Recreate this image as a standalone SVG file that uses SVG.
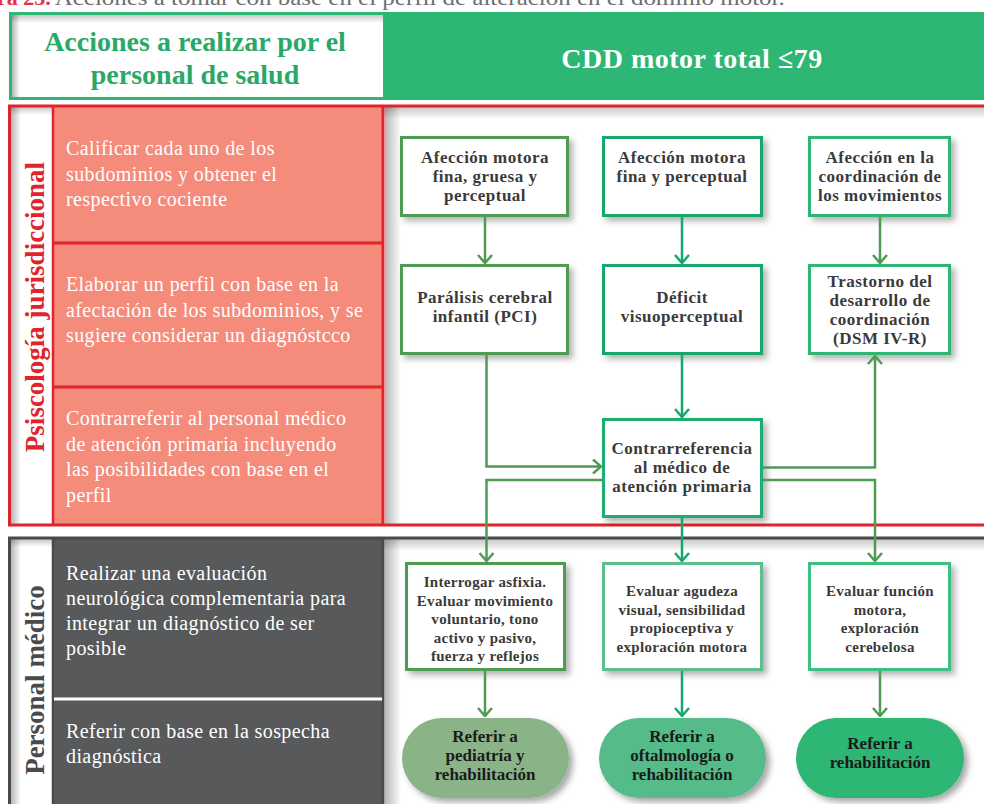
<svg xmlns="http://www.w3.org/2000/svg" width="984" height="804" viewBox="0 0 984 804">
  <defs>
    <style>
      .serif { font-family: "Liberation Serif", "Times New Roman", serif; }
      .hdr { font-family: "Liberation Serif", serif; font-weight: bold; font-size: 28px; text-anchor: middle; }
      .lane { font-family: "Liberation Serif", serif; font-size: 20px; letter-spacing: 0.4px; fill: #ffffff; }
      .vlab { font-family: "Liberation Serif", serif; font-weight: bold; font-size: 27px; text-anchor: middle; }
      .bt { font-family: "Liberation Serif", serif; font-weight: bold; font-size: 17px; letter-spacing: 0.5px; fill: #3a3a3a; text-anchor: middle; }
      .st { font-family: "Liberation Serif", serif; font-weight: bold; font-size: 15px; letter-spacing: 0.3px; fill: #3a3a3a; text-anchor: middle; }
      .pt { font-family: "Liberation Serif", serif; font-weight: bold; font-size: 17px; fill: #1a1a1a; text-anchor: middle; }
      .box { fill: #ffffff; stroke-width: 3; filter: url(#shadow); }
      .pill { stroke: none; filter: url(#pillShadow); }
      .conn { fill: none; stroke-width: 2.5; }
      .gA { stroke: #4f9b53; }
      .gB { stroke: #14a86b; }
      .gC { stroke: #2db674; }
    </style>
    <filter id="shadow" x="-20%" y="-20%" width="150%" height="150%">
      <feDropShadow dx="4" dy="4" stdDeviation="3" flood-color="#000" flood-opacity="0.3"/>
    </filter>
    <filter id="pillShadow" x="-20%" y="-20%" width="150%" height="150%">
      <feDropShadow dx="4" dy="4" stdDeviation="3" flood-color="#000" flood-opacity="0.35"/>
    </filter>
    <linearGradient id="insetL" x1="0" y1="0" x2="1" y2="0">
      <stop offset="0" stop-color="#000" stop-opacity="0.28"/>
      <stop offset="1" stop-color="#000" stop-opacity="0"/>
    </linearGradient>
    <linearGradient id="insetT" x1="0" y1="0" x2="0" y2="1">
      <stop offset="0" stop-color="#000" stop-opacity="0.22"/>
      <stop offset="1" stop-color="#000" stop-opacity="0"/>
    </linearGradient>
    <marker id="arrA" viewBox="0 0 10 16" refX="9" refY="8" markerWidth="10" markerHeight="16" markerUnits="userSpaceOnUse" orient="auto">
      <path d="M1,1 L9,8 L1,15" fill="none" stroke="#4f9b53" stroke-width="2.5"/>
    </marker>
    <marker id="arrB" viewBox="0 0 10 16" refX="9" refY="8" markerWidth="10" markerHeight="16" markerUnits="userSpaceOnUse" orient="auto">
      <path d="M1,1 L9,8 L1,15" fill="none" stroke="#14a86b" stroke-width="2.5"/>
    </marker>
  </defs>

  <rect width="984" height="804" fill="#ffffff"/>

  <!-- caption, cut at the top edge -->
  <text class="serif" y="5" font-size="22">
    <tspan x="-3" fill="#e5304c" font-weight="bold">ra 23.</tspan><tspan fill="#6d6e70" dx="4" textLength="730" lengthAdjust="spacingAndGlyphs">Acciones a tomar con base en el perfil de alteración en el dominio motor.</tspan>
  </text>

  <!-- header band -->
  <g id="header">
    <rect x="9" y="12" width="980" height="88" fill="#2db674"/>
    <rect x="12" y="15" width="371" height="82" fill="#ffffff"/>
    <rect x="12" y="15" width="371" height="8" fill="url(#insetT)"/>
    <rect x="12" y="15" width="8" height="82" fill="url(#insetL)"/>
    <text class="hdr" x="195" y="51" fill="#2aa867">Acciones a realizar por el</text>
    <text class="hdr" x="195" y="84" fill="#2aa867">personal de salud</text>
    <text class="hdr" x="692" y="68" fill="#ffffff" font-size="30" letter-spacing="0.5">CDD motor total ≤79</text>
  </g>

  <!-- lane: psicología -->
  <g id="lane-psicologia">
    <rect x="10" y="106" width="990" height="419" fill="#ffffff"/>
    <rect x="385" y="107" width="16" height="417" fill="url(#insetL)"/>
    <rect x="383" y="107" width="610" height="12" fill="url(#insetT)"/>
    <rect x="11" y="107" width="10" height="417" fill="url(#insetL)"/>
    <rect x="11" y="107" width="42" height="8" fill="url(#insetT)"/>
    <rect x="53" y="106" width="330" height="419" fill="#f48b7b"/>
    <g fill="none" stroke="#e1232c">
      <rect x="9.5" y="106" width="990" height="419" stroke-width="3"/>
      <line x1="53" y1="106" x2="53" y2="525" stroke-width="2.5"/>
      <line x1="383" y1="106" x2="383" y2="525" stroke-width="3"/>
      <line x1="53" y1="243" x2="383" y2="243" stroke-width="3"/>
      <line x1="53" y1="387" x2="383" y2="387" stroke-width="3"/>
    </g>
    <text class="vlab" transform="translate(44 307) rotate(-90)" fill="#e1232c">Psiscología jurisdiccional</text>
    <text class="lane" x="66" y="155">Calificar cada uno de los</text>
    <text class="lane" x="66" y="180.5">subdominios y obtener el</text>
    <text class="lane" x="66" y="206">respectivo cociente</text>
    <text class="lane" x="66" y="291">Elaborar un perfil con base en la</text>
    <text class="lane" x="66" y="316.5">afectación de los subdominios, y se</text>
    <text class="lane" x="66" y="342">sugiere considerar un diagnóstcco</text>
    <text class="lane" x="66" y="425">Contrarreferir al personal médico</text>
    <text class="lane" x="66" y="450.5">de atención primaria incluyendo</text>
    <text class="lane" x="66" y="476">las posibilidades con base en el</text>
    <text class="lane" x="66" y="501.5">perfil</text>
  </g>

  <!-- lane: personal médico -->
  <g id="lane-medico">
    <rect x="10" y="538" width="990" height="280" fill="#ffffff"/>
    <rect x="385" y="539" width="16" height="270" fill="url(#insetL)"/>
    <rect x="383" y="539" width="610" height="12" fill="url(#insetT)"/>
    <rect x="11" y="539" width="10" height="270" fill="url(#insetL)"/>
    <rect x="11" y="539" width="42" height="8" fill="url(#insetT)"/>
    <rect x="53" y="538" width="330" height="280" fill="#58595b"/>
    <g fill="none" stroke="#4a4a4c">
      <rect x="9.5" y="538" width="990" height="280" stroke-width="3"/>
      <line x1="53" y1="538" x2="53" y2="810" stroke-width="2.5"/>
      <line x1="383" y1="538" x2="383" y2="810" stroke-width="3"/>
    </g>
    <line x1="54" y1="699" x2="382" y2="699" stroke="#ffffff" stroke-width="3"/>
    <text class="vlab" transform="translate(44 680) rotate(-90)" fill="#4a4a4c" font-size="28">Personal médico</text>
    <text class="lane" x="66" y="580">Realizar una evaluación</text>
    <text class="lane" x="66" y="605">neurológica complementaria para</text>
    <text class="lane" x="66" y="630">integrar un diagnóstico de ser</text>
    <text class="lane" x="66" y="655">posible</text>
    <text class="lane" x="66" y="738">Referir con base en la sospecha</text>
    <text class="lane" x="66" y="763">diagnóstica</text>
  </g>

  <!-- first row -->
  <g id="n-motora-fina-gruesa">
    <rect class="box gA" x="401.5" y="137.5" width="166" height="78"/>
    <text class="bt" x="485" y="163">Afección motora</text>
    <text class="bt" x="485" y="182">fina, gruesa y</text>
    <text class="bt" x="485" y="201">perceptual</text>
  </g>
  <g id="n-motora-fina-perceptual">
    <rect class="box gB" x="603.5" y="137.5" width="158" height="78"/>
    <text class="bt" x="682" y="163">Afección motora</text>
    <text class="bt" x="682" y="182">fina y perceptual</text>
  </g>
  <g id="n-coordinacion">
    <rect class="box gC" x="809.5" y="137.5" width="140" height="78"/>
    <text class="bt" x="880" y="163">Afección en la</text>
    <text class="bt" x="880" y="182">coordinación de</text>
    <text class="bt" x="880" y="201">los movimientos</text>
  </g>

  <!-- second row -->
  <g id="n-pci">
    <rect class="box gA" x="401.5" y="265.5" width="166" height="88"/>
    <text class="bt" x="485" y="303">Parálisis cerebral</text>
    <text class="bt" x="485" y="322">infantil (PCI)</text>
  </g>
  <g id="n-deficit">
    <rect class="box gB" x="603.5" y="265.5" width="158" height="88"/>
    <text class="bt" x="682" y="303">Déficit</text>
    <text class="bt" x="682" y="322">visuoperceptual</text>
  </g>
  <g id="n-trastorno">
    <rect class="box gC" x="809.5" y="265.5" width="140" height="88"/>
    <text class="bt" x="880" y="287">Trastorno del</text>
    <text class="bt" x="880" y="306">desarrollo de</text>
    <text class="bt" x="880" y="325">coordinación</text>
    <text class="bt" x="880" y="344">(DSM IV-R)</text>
  </g>

  <!-- hub -->
  <g id="n-contrarreferencia">
    <rect class="box" stroke="#1fae70" x="603.5" y="419.5" width="158" height="97"/>
    <text class="bt" x="682" y="454" fill="#2bac68">Contrarreferencia</text>
    <text class="bt" x="682" y="473" fill="#2bac68">al médico de</text>
    <text class="bt" x="682" y="492" fill="#2bac68">atención primaria</text>
  </g>

  <!-- third row -->
  <g id="n-eval-asfixia">
    <rect class="box gA" x="406.5" y="563.5" width="158" height="106"/>
    <text class="st" x="485" y="587">Interrogar asfixia.</text>
    <text class="st" x="485" y="605.5">Evaluar movimiento</text>
    <text class="st" x="485" y="624">voluntario, tono</text>
    <text class="st" x="485" y="642.5">activo y pasivo,</text>
    <text class="st" x="485" y="661">fuerza y reflejos</text>
  </g>
  <g id="n-eval-agudeza">
    <rect class="box" stroke="#5cbf8d" x="603.5" y="563.5" width="158" height="106"/>
    <text class="st" x="682" y="596">Evaluar agudeza</text>
    <text class="st" x="682" y="614.5">visual, sensibilidad</text>
    <text class="st" x="682" y="633">propioceptiva y</text>
    <text class="st" x="682" y="651.5">exploración motora</text>
  </g>
  <g id="n-eval-motora">
    <rect class="box" stroke="#3cbf80" x="809.5" y="563.5" width="140" height="106"/>
    <text class="st" x="880" y="596">Evaluar función</text>
    <text class="st" x="880" y="614.5">motora,</text>
    <text class="st" x="880" y="633">exploración</text>
    <text class="st" x="880" y="651.5">cerebelosa</text>
  </g>

  <!-- referral pills -->
  <g id="n-ref-pediatria">
    <rect class="pill" x="402" y="718" width="167" height="80" rx="40" fill="#8ab487"/>
    <text class="pt" x="485" y="742">Referir a</text>
    <text class="pt" x="485" y="761">pediatría y</text>
    <text class="pt" x="485" y="780">rehabilitación</text>
  </g>
  <g id="n-ref-oftalmologia">
    <rect class="pill" x="599" y="718" width="167" height="80" rx="40" fill="#55bb88"/>
    <text class="pt" x="682" y="742">Referir a</text>
    <text class="pt" x="682" y="761">oftalmología o</text>
    <text class="pt" x="682" y="780">rehabilitación</text>
  </g>
  <g id="n-ref-rehabilitacion">
    <rect class="pill" x="796" y="718" width="168" height="80" rx="40" fill="#2db674"/>
    <text class="pt" x="880" y="749">Referir a</text>
    <text class="pt" x="880" y="768">rehabilitación</text>
  </g>

  <!-- connectors -->
  <g id="connectors">
    <path class="conn gA" d="M485,216 V263" marker-end="url(#arrA)"/>
    <path class="conn gB" d="M682,216 V263" marker-end="url(#arrB)"/>
    <path class="conn gA" d="M880,216 V263" marker-end="url(#arrA)"/>
    <path class="conn gA" d="M486.5,355 V466.5 H601" marker-end="url(#arrA)"/>
    <path class="conn gB" d="M682,355 V417" marker-end="url(#arrB)"/>
    <path class="conn gA" d="M763,467.5 H875 V356" marker-end="url(#arrA)"/>
    <path class="conn gA" d="M602,480 H486.5 V561" marker-end="url(#arrA)"/>
    <path class="conn gB" d="M682,518 V561" marker-end="url(#arrB)"/>
    <path class="conn gA" d="M763,480 H875 V561" marker-end="url(#arrA)"/>
    <path class="conn gA" d="M485,671 V716" marker-end="url(#arrA)"/>
    <path class="conn gB" d="M682,671 V716" marker-end="url(#arrB)"/>
    <path class="conn gA" d="M880,671 V716" marker-end="url(#arrA)"/>
  </g>
</svg>
